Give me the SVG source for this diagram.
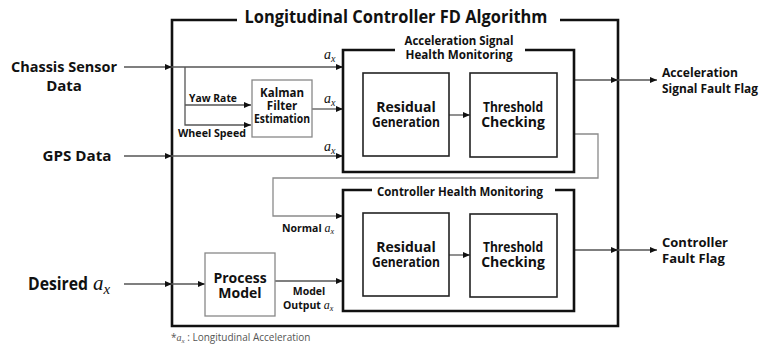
<svg xmlns="http://www.w3.org/2000/svg" width="764" height="345" viewBox="0 0 764 345">
<defs>
<marker id="ah" markerUnits="userSpaceOnUse" markerWidth="8" markerHeight="8" refX="7" refY="3" orient="auto">
<path d="M0,0 L7,3 L0,6 Z" fill="#111"/>
</marker>
<style>
text{font-family:"Open Sans","Noto Sans","Liberation Sans",sans-serif;font-weight:bold;fill:#111}
.m{text-anchor:middle}
.math{font-family:"Liberation Serif","DejaVu Serif",serif;font-style:italic;font-weight:normal}
.c{fill:none;stroke:#555;stroke-width:1.3}
.cl{fill:none;stroke:#8a8a8a;stroke-width:1.3}
.heavy{fill:none;stroke:#111;stroke-width:2.6}
.blk{fill:#fff;stroke:#222;stroke-width:1.6}
.gbox{fill:#fff;stroke:#888;stroke-width:1.3}
</style>
</defs>
<rect width="764" height="345" fill="#fff"/>

<g id="outer">
<path class="heavy" d="M237,20 H172 V326 H618 V20 H560"/>
<text class="m" x="396" y="23" font-size="17" textLength="303" lengthAdjust="spacingAndGlyphs">Longitudinal Controller FD Algorithm</text>
</g>

<g id="inputs">
<text class="m" x="64" y="72" font-size="15" textLength="106" lengthAdjust="spacingAndGlyphs">Chassis Sensor</text>
<text class="m" x="64" y="91" font-size="15">Data</text>
<text class="m" x="77" y="161" font-size="15" textLength="69" lengthAdjust="spacingAndGlyphs">GPS Data</text>
<text x="28" y="290" font-size="18" textLength="60" lengthAdjust="spacingAndGlyphs">Desired</text>
<text class="math" x="93" y="290" font-size="21">a<tspan font-size="15" dy="4">x</tspan></text>
</g>

<g id="connectors">
<path class="c" marker-end="url(#ah)" d="M124,67 H172"/>
<path class="c" marker-end="url(#ah)" d="M172,67 H343"/>
<path class="c" marker-end="url(#ah)" d="M185,67 V125 H251"/>
<path class="c" marker-end="url(#ah)" d="M185,105 H251"/>
<path class="c" marker-end="url(#ah)" d="M312,109 H343"/>
<path class="c" marker-end="url(#ah)" d="M124,156 H172"/>
<path class="c" marker-end="url(#ah)" d="M172,156 H343"/>
<path class="c" marker-end="url(#ah)" d="M449,115 H470"/>
<path class="c" marker-end="url(#ah)" d="M574,80 H618"/>
<path class="c" marker-end="url(#ah)" d="M618,80 H657"/>
<path class="cl" marker-end="url(#ah)" d="M574,134 H598 V178 H273 V216 H343"/>
<path class="c" marker-end="url(#ah)" d="M449,255 H470"/>
<path class="c" marker-end="url(#ah)" d="M574,250 H618"/>
<path class="c" marker-end="url(#ah)" d="M618,250 H657"/>
<path class="c" marker-end="url(#ah)" d="M124,284 H172"/>
<path class="c" marker-end="url(#ah)" d="M172,284 H205"/>
<path class="c" marker-end="url(#ah)" d="M275,281 H343"/>
<text x="189" y="102" font-size="11" textLength="48" lengthAdjust="spacingAndGlyphs">Yaw Rate</text>
<text x="178" y="137" font-size="11" textLength="68" lengthAdjust="spacingAndGlyphs">Wheel Speed</text>
<text class="math" x="324" y="59" font-size="14">a<tspan font-size="10" dy="3">x</tspan></text>
<text class="math" x="324" y="103" font-size="14">a<tspan font-size="10" dy="3">x</tspan></text>
<text class="math" x="324" y="151" font-size="14">a<tspan font-size="10" dy="3">x</tspan></text>
<text x="282" y="232" font-size="10.5">Normal <tspan class="math" font-size="12">a</tspan><tspan class="math" font-size="8" dy="2">x</tspan></text>
<text class="m" x="309" y="295" font-size="10.5">Model</text>
<text x="283" y="309" font-size="10.5">Output <tspan class="math" font-size="12">a</tspan><tspan class="math" font-size="8" dy="2">x</tspan></text>
</g>

<g id="kalman">
<rect class="gbox" x="252" y="80" width="60" height="57"/>
<text class="m" x="282" y="97" font-size="11.5">Kalman</text>
<text class="m" x="282" y="110" font-size="11.5">Filter</text>
<text class="m" x="282" y="123" font-size="11.5" textLength="56" lengthAdjust="spacingAndGlyphs">Estimation</text>
</g>

<g id="process-model">
<rect class="gbox" x="205" y="253" width="70" height="63"/>
<text class="m" x="240" y="283" font-size="14">Process</text>
<text class="m" x="240" y="298" font-size="14">Model</text>
</g>

<g id="accel-health">
<path class="heavy" d="M395,50 H343 V172 H574 V50 H525"/>
<text class="m" x="459" y="45" font-size="12.5" textLength="109" lengthAdjust="spacingAndGlyphs">Acceleration Signal</text>
<text class="m" x="459" y="59" font-size="12.5" textLength="107" lengthAdjust="spacingAndGlyphs">Health Monitoring</text>
</g>
<g id="accel-residual">
<rect class="blk" x="363" y="73" width="86" height="83"/>
<text class="m" x="406" y="112" font-size="14">Residual</text>
<text class="m" x="406" y="127" font-size="14" textLength="68" lengthAdjust="spacingAndGlyphs">Generation</text>
</g>
<g id="accel-threshold">
<rect class="blk" x="470" y="73" width="87" height="84"/>
<text class="m" x="513" y="112" font-size="14" textLength="60" lengthAdjust="spacingAndGlyphs">Threshold</text>
<text class="m" x="513" y="127" font-size="14">Checking</text>
</g>

<g id="controller-health">
<path class="heavy" d="M372,190 H343 V311 H574 V190 H555"/>
<text class="m" x="460" y="196" font-size="12.5" textLength="166" lengthAdjust="spacingAndGlyphs">Controller Health Monitoring</text>
</g>
<g id="ctrl-residual">
<rect class="blk" x="363" y="213" width="86" height="83"/>
<text class="m" x="406" y="252" font-size="14">Residual</text>
<text class="m" x="406" y="267" font-size="14" textLength="68" lengthAdjust="spacingAndGlyphs">Generation</text>
</g>
<g id="ctrl-threshold">
<rect class="blk" x="470" y="214" width="87" height="83"/>
<text class="m" x="513" y="252" font-size="14" textLength="60" lengthAdjust="spacingAndGlyphs">Threshold</text>
<text class="m" x="513" y="267" font-size="14">Checking</text>
</g>

<g id="outputs">
<text x="662" y="77" font-size="12.5" textLength="76" lengthAdjust="spacingAndGlyphs">Acceleration</text>
<text x="662" y="93" font-size="12.5" textLength="96" lengthAdjust="spacingAndGlyphs">Signal Fault Flag</text>
<text x="662" y="247" font-size="13">Controller</text>
<text x="662" y="263" font-size="13">Fault Flag</text>
</g>

<g id="footnote">
<text x="171" y="341" font-size="10" style="font-weight:normal;fill:#555">*<tspan class="math" style="fill:#555">a</tspan><tspan class="math" font-size="7" dy="2" style="fill:#555">x</tspan><tspan dy="-2"> : Longitudinal Acceleration</tspan></text>
</g>
</svg>
